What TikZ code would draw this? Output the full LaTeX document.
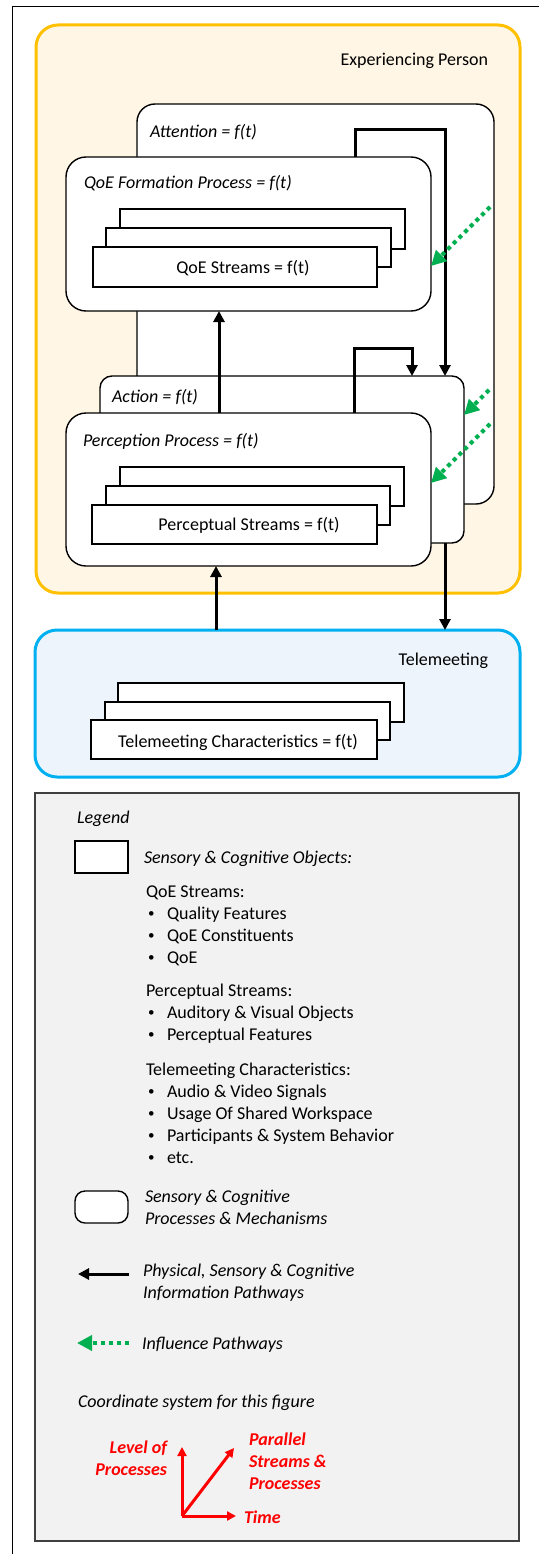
\documentclass[tikz,border=0pt]{standalone}
\usepackage{fontspec}
\setmainfont{Carlito}
\usetikzlibrary{arrows.meta}
\definecolor{ybord}{HTML}{FFC000}
\definecolor{yfill}{HTML}{FFF6E5}
\definecolor{bbord}{HTML}{00B0F0}
\definecolor{bfill}{HTML}{EDF4FB}
\definecolor{lfill}{HTML}{F2F2F2}
\definecolor{lbord}{HTML}{404040}
\definecolor{grn}{HTML}{00B050}
\definecolor{axred}{HTML}{FF0000}
\begin{document}
\begin{tikzpicture}[x=1pt,y=-1pt,
  every node/.style={font=\fontsize{18}{22}\selectfont, inner sep=0pt, outer sep=0pt},
  lbl/.style={anchor=base west},
  bul/.style={anchor=base west, font=\fontsize{13}{22}\selectfont},
  ilbl/.style={anchor=base west, font=\fontsize{18}{22}\selectfont\itshape},
  rlbl/.style={font=\fontsize{18}{22}\selectfont\bfseries\itshape, text=axred},
  proc/.style={draw=black, line width=1.4pt, fill=white, rounded corners=#1, anchor=north west},
  obj/.style={draw=black, line width=1.4pt, fill=white, anchor=north west},
  barrow/.style={draw=black, line width=3pt, -{Triangle[length=11pt,width=11pt]}},
  garrow/.style={draw=grn, line width=4pt, dash pattern=on 4pt off 4pt, -{Triangle[length=15pt,width=15pt]}},
  raxis/.style={draw=axred, line width=3pt, -{Triangle[length=9pt,width=9pt]}}
]
\useasboundingbox (0,0) rectangle (539,1554);
\draw[line width=1pt] (12,1554) -- (12,7) -- (539,7);

% Experiencing person
\node[draw=ybord, fill=yfill, line width=3pt, rounded corners=22pt, anchor=north west,
      minimum width=484pt, minimum height=568pt] (person) at (36,25) {};
\node[anchor=base east] (personlbl) at (488,66) {Experiencing Person};

% Attention
\node[proc=18pt, minimum width=357pt, minimum height=400pt] (att) at (137,104) {};
\node[ilbl] (attlbl) at (150,138) {Attention = f(t)};

% QoE formation
\node[proc=20pt, minimum width=365pt, minimum height=154pt] (qoef) at (66,157) {};
\node[ilbl] (qoeflbl) at (84,189) {QoE Formation Process = f(t)};
\node[obj, minimum width=285pt, minimum height=40pt] (qs3) at (120,209) {};
\node[obj, minimum width=285pt, minimum height=39pt] (qs2) at (106,228) {};
\node[obj, minimum width=284pt, minimum height=40pt] (qs1) at (93,247) {};
\node[anchor=base] (qslbl) at (243,273) {QoE Streams = f(t)};

% Action
\node[proc=12pt, minimum width=364pt, minimum height=167pt] (act) at (100,376) {};
\node[ilbl] (actlbl) at (112,402) {Action = f(t)};

% Perception
\node[proc=20pt, minimum width=365pt, minimum height=153pt] (perc) at (66,413) {};
\node[ilbl] (perclbl) at (83,446) {Perception Process = f(t)};
\node[obj, minimum width=284pt, minimum height=39pt] (ps3) at (120,467) {};
\node[obj, minimum width=284pt, minimum height=39pt] (ps2) at (106,486) {};
\node[obj, minimum width=285pt, minimum height=39pt] (ps1) at (92,505) {};
\node[anchor=base] (pslbl) at (249,530) {Perceptual Streams = f(t)};

% Telemeeting
\node[draw=bbord, fill=bfill, line width=3pt, rounded corners=22pt, anchor=north west,
      minimum width=485pt, minimum height=147pt] (tele) at (35,630) {};
\node[anchor=base east] (telelbl) at (488,665) {Telemeeting};
\node[obj, minimum width=286pt, minimum height=39pt] (ts3) at (118,683) {};
\node[obj, minimum width=285pt, minimum height=38pt] (ts2) at (105,702) {};
\node[obj, minimum width=286pt, minimum height=39pt] (ts1) at (91,720) {};
\node[anchor=base] (tslbl) at (238,747) {Telemeeting Characteristics = f(t)};

% connectors
\coordinate (b1) at (355,130);
\coordinate (b2) at (445,130);
\draw[barrow] (qoef.north -| b1) |- (b2) -- (act.north -| b2);
\coordinate (c3) at (219,0);
\draw[barrow] (perc.north -| c3) -- (qoef.south -| c3);
\coordinate (b3) at (354,348);
\coordinate (b4) at (412,348);
\draw[barrow] (perc.north -| b3) |- (b4) -- (act.north -| b4);
\coordinate (c4) at (216,0);
\draw[barrow] (tele.north -| c4) -- (perc.south -| c4);
\coordinate (c5) at (445,0);
\draw[barrow] (act.south -| c5) -- (tele.north -| c5);

% influence arrows
\coordinate (g1) at (490,207);
\coordinate (g1e) at (0,266);
\draw[garrow] (g1) -- (qoef.east |- g1e);
\coordinate (g2) at (489,390);
\coordinate (g2e) at (0,415);
\draw[garrow] (g2) -- (act.east |- g2e);
\coordinate (g3) at (490,424);
\coordinate (g3e) at (0,483);
\draw[garrow] (g3) -- (perc.east |- g3e);

% Legend
\node[draw=lbord, fill=lfill, line width=2pt, anchor=north west,
      minimum width=484pt, minimum height=748pt] (legend) at (35,793) {};
\node[ilbl] (leglbl) at (77,823) {Legend};
\node[obj, minimum width=53pt, minimum height=32pt] (legobj) at (75,841) {};
\node[ilbl] (legobjlbl) at (144,863) {Sensory \& Cognitive Objects:};

\node[lbl] (h1) at (146,897) {QoE Streams:};
\node[bul] (b11) at (148,917) {•};  \node[lbl] (t11) at (167,919) {Quality Features};
\node[bul] (b12) at (148,939) {•};  \node[lbl] (t12) at (167,941) {QoE Constituents};
\node[bul] (b13) at (148,961) {•};  \node[lbl] (t13) at (167,963) {QoE};

\node[lbl] (h2) at (146,996) {Perceptual Streams:};
\node[bul] (b21) at (148,1016) {•}; \node[lbl] (t21) at (167,1018) {Auditory \& Visual Objects};
\node[bul] (b22) at (148,1038) {•}; \node[lbl] (t22) at (167,1040) {Perceptual Features};

\node[lbl] (h3) at (146,1075) {Telemeeting Characteristics:};
\node[bul] (b31) at (148,1095) {•}; \node[lbl] (t31) at (167,1097) {Audio \& Video Signals};
\node[bul] (b32) at (148,1117) {•}; \node[lbl] (t32) at (167,1119) {Usage Of Shared Workspace};
\node[bul] (b33) at (148,1139) {•}; \node[lbl] (t33) at (167,1141) {Participants \& System Behavior};
\node[bul] (b34) at (148,1161) {•}; \node[lbl] (t34) at (167,1163) {etc.};

\node[proc=10pt, minimum width=53pt, minimum height=32pt] (legproc) at (75,1191) {};
\node[ilbl] (legproc1) at (145,1202) {Sensory \& Cognitive};
\node[ilbl] (legproc2) at (145,1224) {Processes \& Mechanisms};

\coordinate (la1) at (129,1274);
\coordinate (la2) at (78,1274);
\draw[barrow] (la1) -- (la2);
\node[ilbl] (legarr1) at (143,1276) {Physical, Sensory \& Cognitive};
\node[ilbl] (legarr2) at (143,1298) {Information Pathways};

\coordinate (lg1) at (129,1343);
\coordinate (lg2) at (77,1343);
\draw[garrow] (lg1) -- (lg2);
\node[ilbl] (leginf) at (142,1349) {Influence Pathways};

\node[ilbl] (legcoord) at (78,1407) {Coordinate system for this figure};

\coordinate (o) at (182,1516);
\coordinate (ax1) at (182,1447);
\coordinate (ax2) at (236,1516);
\coordinate (ax3) at (234,1448);
\draw[raxis] (o) -- (ax1);
\draw[raxis] (o) -- (ax2);
\draw[raxis] (o) -- (ax3);
\node[rlbl, anchor=base east] (lv1) at (167,1453) {Level of};
\node[rlbl, anchor=base east] (lv2) at (167,1475) {Processes};
\node[rlbl, anchor=base west] (pa1) at (249,1445) {Parallel};
\node[rlbl, anchor=base west] (pa2) at (249,1467) {Streams \&};
\node[rlbl, anchor=base west] (pa3) at (249,1489) {Processes};
\node[rlbl, anchor=base west] (tm) at (244,1523) {Time};
\end{tikzpicture}
\end{document}
